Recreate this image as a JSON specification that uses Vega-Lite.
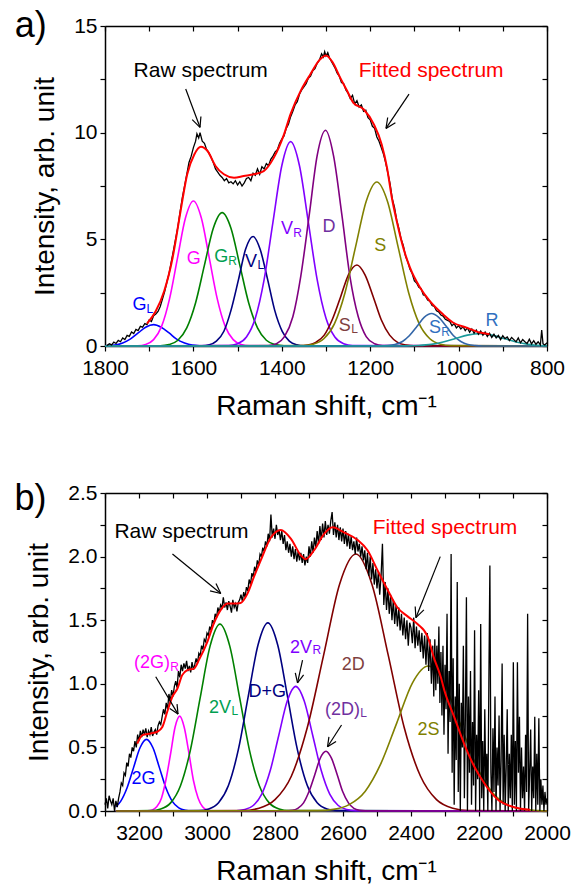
{
"$schema": "https://vega.github.io/schema/vega-lite/v6.json",
"padding": {"left": 14, "top": 8, "right": 2, "bottom": 5},
"spacing": 61,
"config": {
 "font": "Liberation Sans",
 "view": {"stroke": null},
 "scale": {"continuousPadding": 0},
 "axis": {"labelFont": "Liberation Sans", "titleFont": "Liberation Sans", "labelFontSize": 21, "titleFontSize": 28, "titleFontWeight": "normal", "labelColor": "#000", "titleColor": "#000", "domainColor": "#000", "tickColor": "#000", "domainWidth": 1.5, "tickWidth": 1.2, "tickSize": 5, "labelPadding": 3, "labelFlush": false, "labelOverlap": false, "grid": false, "titlePadding": 14},
 "axisBottom": {"labelPadding": 6},
 "axisLeft": {"titlePadding": 14}
},
"datasets": {
 "aPk": [
  {"s":"GL","x":800,"y":0},{"s":"GL","x":1568,"y":0.002},{"s":"GL","x":1585,"y":0.01},{"s":"GL","x":1603,"y":0.04},{"s":"GL","x":1620,"y":0.14},{"s":"GL","x":1638,"y":0.32},{"s":"GL","x":1655,"y":0.61},{"s":"GL","x":1673,"y":0.88},{"s":"GL","x":1690,"y":1.0},{"s":"GL","x":1708,"y":0.88},{"s":"GL","x":1725,"y":0.61},{"s":"GL","x":1743,"y":0.32},{"s":"GL","x":1760,"y":0.14},{"s":"GL","x":1778,"y":0.04},{"s":"GL","x":1800,"y":0.01},
  {"s":"G","x":800,"y":0},{"s":"G","x":1474,"y":0.015},{"s":"G","x":1492,"y":0.075},{"s":"G","x":1510,"y":0.3},{"s":"G","x":1528,"y":0.92},{"s":"G","x":1546,"y":2.21},{"s":"G","x":1564,"y":4.12},{"s":"G","x":1582,"y":6.0},{"s":"G","x":1600,"y":6.8},{"s":"G","x":1618,"y":6.0},{"s":"G","x":1636,"y":4.12},{"s":"G","x":1654,"y":2.21},{"s":"G","x":1672,"y":0.92},{"s":"G","x":1690,"y":0.3},{"s":"G","x":1708,"y":0.075},{"s":"G","x":1726,"y":0.015},{"s":"G","x":1800,"y":0},
  {"s":"GR","x":800,"y":0},{"s":"GR","x":1395,"y":0.014},{"s":"GR","x":1415,"y":0.07},{"s":"GR","x":1435,"y":0.27},{"s":"GR","x":1455,"y":0.85},{"s":"GR","x":1475,"y":2.03},{"s":"GR","x":1495,"y":3.79},{"s":"GR","x":1515,"y":5.52},{"s":"GR","x":1535,"y":6.25},{"s":"GR","x":1555,"y":5.52},{"s":"GR","x":1575,"y":3.79},{"s":"GR","x":1595,"y":2.03},{"s":"GR","x":1615,"y":0.85},{"s":"GR","x":1635,"y":0.27},{"s":"GR","x":1655,"y":0.07},{"s":"GR","x":1675,"y":0.014},{"s":"GR","x":1800,"y":0},
  {"s":"VL","x":800,"y":0},{"s":"VL","x":1350,"y":0.011},{"s":"VL","x":1366,"y":0.057},{"s":"VL","x":1383,"y":0.23},{"s":"VL","x":1399,"y":0.69},{"s":"VL","x":1416,"y":1.67},{"s":"VL","x":1432,"y":3.11},{"s":"VL","x":1449,"y":4.53},{"s":"VL","x":1465,"y":5.13},{"s":"VL","x":1482,"y":4.53},{"s":"VL","x":1498,"y":3.11},{"s":"VL","x":1515,"y":1.67},{"s":"VL","x":1531,"y":0.69},{"s":"VL","x":1548,"y":0.23},{"s":"VL","x":1564,"y":0.057},{"s":"VL","x":1581,"y":0.011},{"s":"VL","x":1800,"y":0},
  {"s":"VR","x":800,"y":0},{"s":"VR","x":1240,"y":0.021},{"s":"VR","x":1260,"y":0.106},{"s":"VR","x":1280,"y":0.42},{"s":"VR","x":1300,"y":1.3},{"s":"VR","x":1320,"y":3.11},{"s":"VR","x":1340,"y":5.81},{"s":"VR","x":1360,"y":8.45},{"s":"VR","x":1380,"y":9.58},{"s":"VR","x":1400,"y":8.45},{"s":"VR","x":1420,"y":5.81},{"s":"VR","x":1440,"y":3.11},{"s":"VR","x":1460,"y":1.3},{"s":"VR","x":1480,"y":0.42},{"s":"VR","x":1500,"y":0.106},{"s":"VR","x":1520,"y":0.021},{"s":"VR","x":1800,"y":0},
  {"s":"D","x":800,"y":0},{"s":"D","x":1172,"y":0.022},{"s":"D","x":1190,"y":0.11},{"s":"D","x":1209,"y":0.44},{"s":"D","x":1227,"y":1.37},{"s":"D","x":1246,"y":3.28},{"s":"D","x":1264,"y":6.13},{"s":"D","x":1283,"y":8.92},{"s":"D","x":1301,"y":10.11},{"s":"D","x":1320,"y":8.92},{"s":"D","x":1338,"y":6.13},{"s":"D","x":1357,"y":3.28},{"s":"D","x":1375,"y":1.37},{"s":"D","x":1394,"y":0.44},{"s":"D","x":1412,"y":0.11},{"s":"D","x":1431,"y":0.022},{"s":"D","x":1800,"y":0},
  {"s":"SL","x":800,"y":0},{"s":"SL","x":1101,"y":0.008},{"s":"SL","x":1119,"y":0.042},{"s":"SL","x":1138,"y":0.17},{"s":"SL","x":1156,"y":0.51},{"s":"SL","x":1175,"y":1.23},{"s":"SL","x":1193,"y":2.3},{"s":"SL","x":1212,"y":3.35},{"s":"SL","x":1230,"y":3.8},{"s":"SL","x":1249,"y":3.35},{"s":"SL","x":1267,"y":2.3},{"s":"SL","x":1286,"y":1.23},{"s":"SL","x":1304,"y":0.51},{"s":"SL","x":1323,"y":0.17},{"s":"SL","x":1341,"y":0.042},{"s":"SL","x":1360,"y":0.008},{"s":"SL","x":1800,"y":0},
  {"s":"S","x":800,"y":0},{"s":"S","x":1017,"y":0.017},{"s":"S","x":1041,"y":0.085},{"s":"S","x":1065,"y":0.34},{"s":"S","x":1089,"y":1.04},{"s":"S","x":1113,"y":2.5},{"s":"S","x":1137,"y":4.66},{"s":"S","x":1161,"y":6.79},{"s":"S","x":1185,"y":7.69},{"s":"S","x":1209,"y":6.79},{"s":"S","x":1233,"y":4.66},{"s":"S","x":1257,"y":2.5},{"s":"S","x":1281,"y":1.04},{"s":"S","x":1305,"y":0.34},{"s":"S","x":1329,"y":0.085},{"s":"S","x":1353,"y":0.017},{"s":"S","x":1800,"y":0},
  {"s":"SR","x":800,"y":0},{"s":"SR","x":946,"y":0.003},{"s":"SR","x":962,"y":0.017},{"s":"SR","x":979,"y":0.067},{"s":"SR","x":995,"y":0.21},{"s":"SR","x":1012,"y":0.49},{"s":"SR","x":1028,"y":0.92},{"s":"SR","x":1045,"y":1.34},{"s":"SR","x":1061,"y":1.52},{"s":"SR","x":1078,"y":1.34},{"s":"SR","x":1094,"y":0.92},{"s":"SR","x":1111,"y":0.49},{"s":"SR","x":1127,"y":0.21},{"s":"SR","x":1144,"y":0.067},{"s":"SR","x":1160,"y":0.017},{"s":"SR","x":1177,"y":0.003},{"s":"SR","x":1800,"y":0},
  {"s":"R","x":800,"y":0.013},{"s":"R","x":815,"y":0.025},{"s":"R","x":842,"y":0.078},{"s":"R","x":870,"y":0.19},{"s":"R","x":897,"y":0.35},{"s":"R","x":925,"y":0.51},{"s":"R","x":952,"y":0.58},{"s":"R","x":980,"y":0.51},{"s":"R","x":1007,"y":0.35},{"s":"R","x":1035,"y":0.19},{"s":"R","x":1062,"y":0.078},{"s":"R","x":1090,"y":0.025},{"s":"R","x":1117,"y":0.006},{"s":"R","x":1145,"y":0.001},{"s":"R","x":1800,"y":0}
 ],
 "aFit": [
  {"x":1705,"y":1.05},{"x":1685,"y":1.64},{"x":1666,"y":2.58},{"x":1647,"y":4.14},{"x":1629,"y":6.33},{"x":1614,"y":8.05},{"x":1598,"y":8.98},{"x":1583,"y":9.34},{"x":1568,"y":9.14},{"x":1550,"y":8.44},{"x":1531,"y":8.05},{"x":1508,"y":7.89},{"x":1486,"y":7.97},{"x":1463,"y":8.05},{"x":1441,"y":8.2},{"x":1418,"y":8.83},{"x":1395,"y":9.92},{"x":1380,"y":10.88},{"x":1357,"y":11.97},{"x":1335,"y":12.75},{"x":1315,"y":13.4},{"x":1300,"y":13.62},{"x":1285,"y":13.3},{"x":1268,"y":12.58},{"x":1252,"y":11.95},{"x":1238,"y":11.4},{"x":1215,"y":11.1},{"x":1192,"y":10.4},{"x":1174,"y":9.45},{"x":1162,"y":8.36},{"x":1151,"y":6.95},{"x":1140,"y":5.86},{"x":1125,"y":4.6},{"x":1110,"y":3.67},{"x":1087,"y":2.73},{"x":1065,"y":2.1},{"x":1035,"y":1.48},{"x":1012,"y":1.09},{"x":982,"y":0.86},{"x":952,"y":0.63},{"x":930,"y":0.55}
 ],
 "aRaw": [
  {"x":1796,"y":0.02},{"x":1790,"y":0.1},{"x":1785,"y":0.05},{"x":1780,"y":0.18},{"x":1775,"y":0.12},{"x":1770,"y":0.26},{"x":1765,"y":0.2},{"x":1760,"y":0.38},{"x":1755,"y":0.3},{"x":1750,"y":0.5},{"x":1745,"y":0.45},{"x":1740,"y":0.66},{"x":1735,"y":0.58},{"x":1730,"y":0.78},{"x":1725,"y":0.72},{"x":1720,"y":0.92},{"x":1715,"y":0.88},{"x":1710,"y":1.05},{"x":1705,"y":1.0},{"x":1700,"y":1.22},{"x":1695,"y":1.15},{"x":1690,"y":1.42},{"x":1685,"y":1.5},{"x":1680,"y":1.62},{"x":1675,"y":1.85},{"x":1670,"y":2.2},{"x":1665,"y":2.55},{"x":1660,"y":3.0},{"x":1655,"y":3.4},{"x":1650,"y":3.95},{"x":1645,"y":4.5},{"x":1640,"y":5.05},{"x":1635,"y":5.6},{"x":1630,"y":6.3},{"x":1625,"y":6.95},{"x":1620,"y":7.5},{"x":1615,"y":8.05},{"x":1610,"y":8.6},{"x":1605,"y":8.9},{"x":1600,"y":9.3},{"x":1595,"y":9.6},{"x":1592,"y":9.95},{"x":1588,"y":9.75},{"x":1585,"y":10.0},{"x":1580,"y":9.6},{"x":1575,"y":9.5},{"x":1570,"y":9.2},{"x":1565,"y":9.05},{"x":1560,"y":8.85},{"x":1555,"y":8.6},{"x":1550,"y":8.3},{"x":1545,"y":8.15},{"x":1540,"y":8.0},{"x":1535,"y":7.9},{"x":1530,"y":7.75},{"x":1525,"y":7.85},{"x":1520,"y":7.65},{"x":1515,"y":7.7},{"x":1510,"y":7.6},{"x":1505,"y":7.75},{"x":1500,"y":7.55},{"x":1495,"y":7.7},{"x":1490,"y":7.5},{"x":1485,"y":7.65},{"x":1480,"y":7.85},{"x":1475,"y":7.9},{"x":1470,"y":7.75},{"x":1465,"y":8.1},{"x":1460,"y":8.0},{"x":1455,"y":8.3},{"x":1450,"y":8.05},{"x":1445,"y":8.4},{"x":1440,"y":8.3},{"x":1435,"y":8.55},{"x":1430,"y":8.45},{"x":1425,"y":8.75},{"x":1420,"y":8.9},{"x":1415,"y":9.1},{"x":1410,"y":9.2},{"x":1405,"y":9.5},{"x":1400,"y":9.7},{"x":1395,"y":9.85},{"x":1390,"y":10.2},{"x":1385,"y":10.4},{"x":1380,"y":10.75},{"x":1375,"y":11.0},{"x":1370,"y":11.3},{"x":1365,"y":11.45},{"x":1360,"y":11.8},{"x":1355,"y":12.0},{"x":1350,"y":12.15},{"x":1345,"y":12.3},{"x":1340,"y":12.55},{"x":1335,"y":12.65},{"x":1330,"y":12.9},{"x":1325,"y":13.0},{"x":1320,"y":13.25},{"x":1315,"y":13.4},{"x":1310,"y":13.7},{"x":1306,"y":13.55},{"x":1303,"y":13.8},{"x":1300,"y":13.6},{"x":1296,"y":13.75},{"x":1292,"y":13.5},{"x":1288,"y":13.35},{"x":1284,"y":13.2},{"x":1280,"y":13.05},{"x":1275,"y":12.8},{"x":1270,"y":12.65},{"x":1265,"y":12.35},{"x":1260,"y":12.3},{"x":1255,"y":12.0},{"x":1250,"y":11.85},{"x":1245,"y":11.6},{"x":1240,"y":11.75},{"x":1235,"y":11.35},{"x":1230,"y":11.5},{"x":1225,"y":11.2},{"x":1220,"y":11.3},{"x":1215,"y":11.0},{"x":1210,"y":11.05},{"x":1205,"y":10.7},{"x":1200,"y":10.6},{"x":1195,"y":10.3},{"x":1190,"y":10.2},{"x":1185,"y":9.8},{"x":1180,"y":9.6},{"x":1175,"y":9.3},{"x":1170,"y":9.0},{"x":1165,"y":8.6},{"x":1160,"y":8.1},{"x":1155,"y":7.6},{"x":1150,"y":6.9},{"x":1145,"y":6.5},{"x":1140,"y":5.9},{"x":1135,"y":5.5},{"x":1130,"y":5.0},{"x":1125,"y":4.7},{"x":1120,"y":4.2},{"x":1115,"y":3.95},{"x":1110,"y":3.6},{"x":1105,"y":3.4},{"x":1100,"y":3.05},{"x":1095,"y":2.95},{"x":1090,"y":2.75},{"x":1085,"y":2.7},{"x":1080,"y":2.4},{"x":1075,"y":2.35},{"x":1070,"y":2.15},{"x":1065,"y":2.1},{"x":1060,"y":1.9},{"x":1055,"y":1.85},{"x":1050,"y":1.65},{"x":1045,"y":1.6},{"x":1040,"y":1.45},{"x":1035,"y":1.4},{"x":1030,"y":1.25},{"x":1025,"y":1.2},{"x":1020,"y":1.15},{"x":1015,"y":0.95},{"x":1010,"y":1.05},{"x":1005,"y":0.85},{"x":1000,"y":0.95},{"x":995,"y":0.8},{"x":990,"y":0.9},{"x":985,"y":0.72},{"x":980,"y":0.85},{"x":975,"y":0.65},{"x":970,"y":0.8},{"x":965,"y":0.6},{"x":960,"y":0.75},{"x":955,"y":0.55},{"x":950,"y":0.7},{"x":945,"y":0.5},{"x":940,"y":0.65},{"x":935,"y":0.45},{"x":930,"y":0.6},{"x":925,"y":0.4},{"x":920,"y":0.55},{"x":915,"y":0.38},{"x":910,"y":0.5},{"x":905,"y":0.3},{"x":900,"y":0.48},{"x":895,"y":0.35},{"x":890,"y":0.42},{"x":885,"y":0.25},{"x":880,"y":0.4},{"x":875,"y":0.3},{"x":870,"y":0.2},{"x":865,"y":0.38},{"x":860,"y":0.15},{"x":855,"y":0.3},{"x":850,"y":0.2},{"x":845,"y":0.12},{"x":840,"y":0.32},{"x":835,"y":0.1},{"x":830,"y":0.25},{"x":825,"y":0.08},{"x":820,"y":0.2},{"x":815,"y":0.05},{"x":812,"y":0.75},{"x":809,"y":0.1},{"x":805,"y":0.05},{"x":800,"y":0.15}
 ],
 "aArr": [
  {"x":1617.4,"y":12.05,"x2":1585.1,"y2":10.25},{"x":1583.0,"y":10.76,"x2":1585.1,"y2":10.25},{"x":1602.7,"y":10.61,"x2":1585.1,"y2":10.25},
  {"x":1112.2,"y":11.81,"x2":1164.3,"y2":10.2},{"x":1143.0,"y":10.47,"x2":1164.3,"y2":10.2},{"x":1160.4,"y":10.71,"x2":1164.3,"y2":10.2}
 ],
 "aLab": [
  {"s":"GL","r":"m","t":"G","x":1738,"y":1.69},{"s":"GL","r":"s","t":"L","x":1706,"y":1.56},
  {"s":"G","r":"m","t":"G","x":1615,"y":3.84},
  {"s":"GR","r":"m","t":"G","x":1553,"y":3.92},{"s":"GR","r":"s","t":"R","x":1521,"y":3.81},
  {"s":"VL","r":"m","t":"V","x":1483,"y":3.69},{"s":"VL","r":"s","t":"L","x":1455,"y":3.61},
  {"s":"VR","r":"m","t":"V","x":1402,"y":5.25},{"s":"VR","r":"s","t":"R","x":1374,"y":5.12},
  {"s":"D","r":"m","t":"D","x":1308,"y":5.36},
  {"s":"SL","r":"m","t":"S","x":1271,"y":0.68},{"s":"SL","r":"s","t":"L","x":1243,"y":0.59},
  {"s":"S","r":"m","t":"S","x":1191,"y":4.47},
  {"s":"SR","r":"m","t":"S","x":1067,"y":0.59},{"s":"SR","r":"s","t":"R","x":1039,"y":0.48},
  {"s":"R","r":"m","t":"R","x":939,"y":0.95}
 ],
 "aNote": [
  {"t":"Raw spectrum","c":"k","x":1583.5,"y":12.9},{"t":"Fitted spectrum","c":"r","x":1062,"y":12.87}
 ],
 "aTag": [{"t":"a)","x":2004,"y":14.47}],
 "bPk": [
  {"s":"2G","x":2000,"y":0},{"s":"2G","x":3045,"y":0.001},{"s":"2G","x":3064,"y":0.006},{"s":"2G","x":3083,"y":0.025},{"s":"2G","x":3102,"y":0.076},{"s":"2G","x":3121,"y":0.183},{"s":"2G","x":3140,"y":0.341},{"s":"2G","x":3159,"y":0.497},{"s":"2G","x":3178,"y":0.563},{"s":"2G","x":3197,"y":0.497},{"s":"2G","x":3216,"y":0.341},{"s":"2G","x":3235,"y":0.183},{"s":"2G","x":3254,"y":0.076},{"s":"2G","x":3268,"y":0.034},
  {"s":"2GR","x":2000,"y":0},{"s":"2GR","x":2986,"y":0.002},{"s":"2GR","x":2999,"y":0.008},{"s":"2GR","x":3013,"y":0.033},{"s":"2GR","x":3026,"y":0.101},{"s":"2GR","x":3040,"y":0.242},{"s":"2GR","x":3053,"y":0.452},{"s":"2GR","x":3067,"y":0.658},{"s":"2GR","x":3080,"y":0.746},{"s":"2GR","x":3094,"y":0.658},{"s":"2GR","x":3107,"y":0.452},{"s":"2GR","x":3121,"y":0.242},{"s":"2GR","x":3134,"y":0.101},{"s":"2GR","x":3148,"y":0.033},{"s":"2GR","x":3161,"y":0.008},{"s":"2GR","x":3175,"y":0.002},{"s":"2GR","x":3268,"y":0},
  {"s":"2VL","x":2000,"y":0},{"s":"2VL","x":2759,"y":0.003},{"s":"2VL","x":2788,"y":0.016},{"s":"2VL","x":2817,"y":0.064},{"s":"2VL","x":2846,"y":0.199},{"s":"2VL","x":2875,"y":0.477},{"s":"2VL","x":2904,"y":0.891},{"s":"2VL","x":2933,"y":1.296},{"s":"2VL","x":2962,"y":1.469},{"s":"2VL","x":2991,"y":1.296},{"s":"2VL","x":3020,"y":0.891},{"s":"2VL","x":3049,"y":0.477},{"s":"2VL","x":3078,"y":0.199},{"s":"2VL","x":3107,"y":0.064},{"s":"2VL","x":3136,"y":0.016},{"s":"2VL","x":3165,"y":0.003},{"s":"2VL","x":3268,"y":0},
  {"s":"DG","x":2000,"y":0},{"s":"DG","x":2618,"y":0.003},{"s":"DG","x":2647,"y":0.016},{"s":"DG","x":2676,"y":0.065},{"s":"DG","x":2705,"y":0.2},{"s":"DG","x":2734,"y":0.48},{"s":"DG","x":2763,"y":0.897},{"s":"DG","x":2792,"y":1.305},{"s":"DG","x":2821,"y":1.479},{"s":"DG","x":2850,"y":1.305},{"s":"DG","x":2879,"y":0.897},{"s":"DG","x":2908,"y":0.48},{"s":"DG","x":2937,"y":0.2},{"s":"DG","x":2966,"y":0.065},{"s":"DG","x":2995,"y":0.016},{"s":"DG","x":3024,"y":0.003},{"s":"DG","x":3268,"y":0},
  {"s":"2VR","x":2000,"y":0},{"s":"2VR","x":2564,"y":0.002},{"s":"2VR","x":2589,"y":0.011},{"s":"2VR","x":2614,"y":0.043},{"s":"2VR","x":2639,"y":0.133},{"s":"2VR","x":2664,"y":0.318},{"s":"2VR","x":2689,"y":0.594},{"s":"2VR","x":2714,"y":0.865},{"s":"2VR","x":2739,"y":0.98},{"s":"2VR","x":2764,"y":0.865},{"s":"2VR","x":2789,"y":0.594},{"s":"2VR","x":2814,"y":0.318},{"s":"2VR","x":2839,"y":0.133},{"s":"2VR","x":2864,"y":0.043},{"s":"2VR","x":2889,"y":0.011},{"s":"2VR","x":2914,"y":0.002},{"s":"2VR","x":3268,"y":0},
  {"s":"2D","x":2000,"y":0},{"s":"2D","x":2230,"y":0.004},{"s":"2D","x":2277,"y":0.022},{"s":"2D","x":2325,"y":0.089},{"s":"2D","x":2372,"y":0.273},{"s":"2D","x":2420,"y":0.656},{"s":"2D","x":2467,"y":1.225},{"s":"2D","x":2515,"y":1.783},{"s":"2D","x":2562,"y":2.02},{"s":"2D","x":2610,"y":1.783},{"s":"2D","x":2657,"y":1.225},{"s":"2D","x":2705,"y":0.656},{"s":"2D","x":2752,"y":0.273},{"s":"2D","x":2800,"y":0.089},{"s":"2D","x":2847,"y":0.022},{"s":"2D","x":2895,"y":0.004},{"s":"2D","x":3268,"y":0},
  {"s":"2DL","x":2000,"y":0},{"s":"2DL","x":2535,"y":0.001},{"s":"2DL","x":2551,"y":0.005},{"s":"2DL","x":2568,"y":0.021},{"s":"2DL","x":2584,"y":0.064},{"s":"2DL","x":2601,"y":0.153},{"s":"2DL","x":2617,"y":0.285},{"s":"2DL","x":2634,"y":0.415},{"s":"2DL","x":2650,"y":0.47},{"s":"2DL","x":2667,"y":0.415},{"s":"2DL","x":2683,"y":0.285},{"s":"2DL","x":2700,"y":0.153},{"s":"2DL","x":2716,"y":0.064},{"s":"2DL","x":2733,"y":0.021},{"s":"2DL","x":2749,"y":0.005},{"s":"2DL","x":2766,"y":0.001},{"s":"2DL","x":3268,"y":0},
  {"s":"2S","x":2000,"y":0},{"s":"2S","x":2024,"y":0.003},{"s":"2S","x":2070,"y":0.013},{"s":"2S","x":2117,"y":0.05},{"s":"2S","x":2163,"y":0.154},{"s":"2S","x":2210,"y":0.37},{"s":"2S","x":2256,"y":0.691},{"s":"2S","x":2303,"y":1.006},{"s":"2S","x":2349,"y":1.14},{"s":"2S","x":2396,"y":1.006},{"s":"2S","x":2442,"y":0.691},{"s":"2S","x":2489,"y":0.37},{"s":"2S","x":2535,"y":0.154},{"s":"2S","x":2582,"y":0.05},{"s":"2S","x":2628,"y":0.013},{"s":"2S","x":2675,"y":0.003},{"s":"2S","x":3268,"y":0}
 ],
 "bFit": [
  {"x":3205,"y":0.53},{"x":3190,"y":0.597},{"x":3166,"y":0.61},{"x":3146,"y":0.623},{"x":3131,"y":0.662},{"x":3117,"y":0.78},{"x":3102,"y":0.898},{"x":3087,"y":0.963},{"x":3073,"y":1.068},{"x":3058,"y":1.107},{"x":3038,"y":1.12},{"x":3024,"y":1.186},{"x":2999,"y":1.33},{"x":2980,"y":1.474},{"x":2960,"y":1.579},{"x":2940,"y":1.631},{"x":2921,"y":1.631},{"x":2901,"y":1.636},{"x":2881,"y":1.709},{"x":2862,"y":1.84},{"x":2842,"y":1.97},{"x":2812,"y":2.15},{"x":2783,"y":2.21},{"x":2753,"y":2.14},{"x":2724,"y":2.01},{"x":2709,"y":1.98},{"x":2685,"y":2.05},{"x":2655,"y":2.18},{"x":2631,"y":2.23},{"x":2597,"y":2.19},{"x":2557,"y":2.13},{"x":2528,"y":2.05},{"x":2498,"y":1.89},{"x":2469,"y":1.74},{"x":2440,"y":1.6},{"x":2410,"y":1.53},{"x":2381,"y":1.47},{"x":2351,"y":1.37},{"x":2332,"y":1.2},{"x":2312,"y":1.05},{"x":2302,"y":0.95},{"x":2273,"y":0.74},{"x":2244,"y":0.53},{"x":2214,"y":0.35},{"x":2185,"y":0.22},{"x":2145,"y":0.09},{"x":2096,"y":0.03},{"x":2050,"y":0.01}
 ],
 "bRaw": [
  {"x":3300,"y":0.05},{"x":3296,"y":0.1},{"x":3292,"y":0.02},{"x":3288,"y":0.12},{"x":3284,"y":0.08},{"x":3280,"y":0.05},{"x":3276,"y":0.1},{"x":3272,"y":0.0},{"x":3268,"y":0.08},{"x":3264,"y":0.03},{"x":3260,"y":0.1},{"x":3256,"y":0.15},{"x":3252,"y":0.22},{"x":3248,"y":0.2},{"x":3244,"y":0.3},{"x":3240,"y":0.28},{"x":3236,"y":0.38},{"x":3232,"y":0.35},{"x":3228,"y":0.45},{"x":3224,"y":0.42},{"x":3220,"y":0.5},{"x":3216,"y":0.47},{"x":3212,"y":0.55},{"x":3208,"y":0.5},{"x":3204,"y":0.6},{"x":3200,"y":0.55},{"x":3196,"y":0.63},{"x":3192,"y":0.58},{"x":3188,"y":0.64},{"x":3184,"y":0.6},{"x":3180,"y":0.65},{"x":3176,"y":0.58},{"x":3172,"y":0.63},{"x":3168,"y":0.6},{"x":3164,"y":0.66},{"x":3160,"y":0.59},{"x":3156,"y":0.62},{"x":3152,"y":0.64},{"x":3148,"y":0.6},{"x":3144,"y":0.67},{"x":3140,"y":0.7},{"x":3136,"y":0.68},{"x":3132,"y":0.74},{"x":3128,"y":0.8},{"x":3124,"y":0.76},{"x":3120,"y":0.85},{"x":3116,"y":0.8},{"x":3112,"y":0.92},{"x":3108,"y":0.86},{"x":3104,"y":0.95},{"x":3100,"y":0.9},{"x":3096,"y":0.98},{"x":3092,"y":1.02},{"x":3088,"y":0.97},{"x":3084,"y":1.1},{"x":3080,"y":1.05},{"x":3076,"y":1.15},{"x":3072,"y":1.1},{"x":3068,"y":1.16},{"x":3064,"y":1.12},{"x":3060,"y":1.18},{"x":3056,"y":1.1},{"x":3052,"y":1.14},{"x":3048,"y":1.09},{"x":3044,"y":1.17},{"x":3040,"y":1.11},{"x":3036,"y":1.15},{"x":3032,"y":1.2},{"x":3028,"y":1.16},{"x":3024,"y":1.24},{"x":3020,"y":1.22},{"x":3016,"y":1.3},{"x":3012,"y":1.27},{"x":3008,"y":1.35},{"x":3004,"y":1.33},{"x":3000,"y":1.4},{"x":2996,"y":1.38},{"x":2992,"y":1.45},{"x":2988,"y":1.42},{"x":2984,"y":1.5},{"x":2980,"y":1.47},{"x":2976,"y":1.55},{"x":2972,"y":1.52},{"x":2968,"y":1.6},{"x":2964,"y":1.56},{"x":2960,"y":1.62},{"x":2956,"y":1.6},{"x":2952,"y":1.68},{"x":2948,"y":1.6},{"x":2944,"y":1.64},{"x":2940,"y":1.58},{"x":2936,"y":1.65},{"x":2932,"y":1.61},{"x":2928,"y":1.56},{"x":2924,"y":1.66},{"x":2920,"y":1.6},{"x":2916,"y":1.63},{"x":2912,"y":1.57},{"x":2908,"y":1.64},{"x":2904,"y":1.66},{"x":2900,"y":1.7},{"x":2896,"y":1.65},{"x":2892,"y":1.72},{"x":2888,"y":1.68},{"x":2884,"y":1.76},{"x":2880,"y":1.73},{"x":2876,"y":1.82},{"x":2872,"y":1.78},{"x":2868,"y":1.87},{"x":2864,"y":1.84},{"x":2860,"y":1.92},{"x":2856,"y":1.88},{"x":2852,"y":1.97},{"x":2848,"y":1.93},{"x":2844,"y":2.02},{"x":2840,"y":2.0},{"x":2836,"y":2.07},{"x":2832,"y":2.04},{"x":2828,"y":2.12},{"x":2824,"y":2.08},{"x":2820,"y":2.18},{"x":2816,"y":2.12},{"x":2812,"y":2.33},{"x":2808,"y":2.15},{"x":2804,"y":2.22},{"x":2800,"y":2.14},{"x":2796,"y":2.25},{"x":2792,"y":2.17},{"x":2788,"y":2.21},{"x":2784,"y":2.13},{"x":2780,"y":2.2},{"x":2776,"y":2.1},{"x":2772,"y":2.17},{"x":2768,"y":2.05},{"x":2764,"y":2.12},{"x":2760,"y":2.03},{"x":2756,"y":2.1},{"x":2752,"y":2.0},{"x":2748,"y":2.08},{"x":2744,"y":1.98},{"x":2740,"y":2.06},{"x":2736,"y":1.96},{"x":2732,"y":2.04},{"x":2728,"y":1.97},{"x":2724,"y":2.03},{"x":2720,"y":1.95},{"x":2716,"y":2.02},{"x":2712,"y":1.93},{"x":2708,"y":2.0},{"x":2704,"y":1.95},{"x":2700,"y":2.08},{"x":2696,"y":2.0},{"x":2692,"y":2.12},{"x":2688,"y":2.03},{"x":2684,"y":2.15},{"x":2680,"y":2.07},{"x":2676,"y":2.2},{"x":2672,"y":2.1},{"x":2668,"y":2.24},{"x":2664,"y":2.13},{"x":2660,"y":2.26},{"x":2656,"y":2.15},{"x":2652,"y":2.28},{"x":2648,"y":2.17},{"x":2644,"y":2.25},{"x":2640,"y":2.18},{"x":2636,"y":2.28},{"x":2632,"y":2.35},{"x":2628,"y":2.17},{"x":2624,"y":2.27},{"x":2620,"y":2.15},{"x":2616,"y":2.25},{"x":2612,"y":2.13},{"x":2608,"y":2.23},{"x":2604,"y":2.12},{"x":2600,"y":2.22},{"x":2596,"y":2.1},{"x":2592,"y":2.2},{"x":2588,"y":2.08},{"x":2584,"y":2.18},{"x":2580,"y":2.06},{"x":2576,"y":2.16},{"x":2572,"y":2.05},{"x":2568,"y":2.12},{"x":2564,"y":2.02},{"x":2560,"y":2.15},{"x":2556,"y":2.04},{"x":2552,"y":2.1},{"x":2548,"y":2.0},{"x":2544,"y":2.08},{"x":2540,"y":1.97},{"x":2536,"y":2.05},{"x":2532,"y":1.9},{"x":2528,"y":2.03},{"x":2524,"y":1.85},{"x":2520,"y":2.0},{"x":2516,"y":1.82},{"x":2512,"y":1.95},{"x":2508,"y":1.78},{"x":2504,"y":1.9},{"x":2500,"y":1.75},{"x":2496,"y":1.88},{"x":2492,"y":1.7},{"x":2488,"y":1.85},{"x":2484,"y":2.1},{"x":2480,"y":1.62},{"x":2476,"y":1.8},{"x":2472,"y":1.58},{"x":2468,"y":1.75},{"x":2464,"y":1.55},{"x":2460,"y":1.7},{"x":2456,"y":1.5},{"x":2452,"y":1.66},{"x":2448,"y":1.47},{"x":2444,"y":1.62},{"x":2440,"y":1.45},{"x":2436,"y":1.6},{"x":2432,"y":1.42},{"x":2428,"y":1.55},{"x":2424,"y":1.38},{"x":2420,"y":1.52},{"x":2416,"y":1.35},{"x":2412,"y":1.5},{"x":2408,"y":1.3},{"x":2404,"y":1.48},{"x":2400,"y":1.44},{"x":2396,"y":1.32},{"x":2392,"y":1.52},{"x":2388,"y":1.28},{"x":2384,"y":1.45},{"x":2380,"y":1.3},{"x":2376,"y":1.42},{"x":2372,"y":1.25},{"x":2368,"y":1.4},{"x":2364,"y":1.2},{"x":2360,"y":1.38},{"x":2356,"y":1.15},{"x":2352,"y":1.4},{"x":2348,"y":1.1},{"x":2344,"y":1.35},{"x":2340,"y":1.0},{"x":2336,"y":1.3},{"x":2333,"y":0.9},
  {"x":2330,"y":1.35},{"x":2327,"y":0.95},{"x":2324,"y":1.3},{"x":2321,"y":1.0},{"x":2318,"y":1.45},{"x":2315,"y":0.85},{"x":2312,"y":1.25},{"x":2309,"y":0.75},{"x":2306,"y":1.3},{"x":2303,"y":0.6},{"x":2300,"y":1.15},{"x":2297,"y":0.8},{"x":2294,"y":1.55},{"x":2291,"y":0.45},{"x":2288,"y":1.1},{"x":2285,"y":0.7},{"x":2282,"y":2.02},{"x":2279,"y":0.3},{"x":2276,"y":1.2},{"x":2273,"y":0.05},{"x":2270,"y":0.9},{"x":2267,"y":0.4},{"x":2264,"y":1.8},{"x":2261,"y":0.15},{"x":2258,"y":1.0},{"x":2255,"y":0.0},{"x":2252,"y":0.85},{"x":2249,"y":0.5},{"x":2246,"y":1.3},{"x":2243,"y":0.1},{"x":2240,"y":0.75},{"x":2237,"y":1.68},{"x":2234,"y":0.0},{"x":2231,"y":0.9},{"x":2228,"y":0.3},{"x":2225,"y":1.1},{"x":2222,"y":0.05},{"x":2219,"y":0.7},{"x":2216,"y":0.2},{"x":2213,"y":1.42},{"x":2210,"y":0.0},{"x":2207,"y":0.6},{"x":2204,"y":0.25},{"x":2201,"y":0.95},{"x":2198,"y":0.0},{"x":2195,"y":1.47},{"x":2192,"y":0.1},{"x":2189,"y":0.55},{"x":2186,"y":0.0},{"x":2183,"y":0.8},{"x":2180,"y":0.2},{"x":2177,"y":0.45},{"x":2174,"y":0.0},{"x":2171,"y":1.0},{"x":2168,"y":1.93},{"x":2165,"y":0.3},{"x":2162,"y":0.0},{"x":2159,"y":0.65},{"x":2156,"y":0.15},{"x":2153,"y":0.9},{"x":2150,"y":0.0},{"x":2147,"y":0.5},{"x":2144,"y":0.2},{"x":2141,"y":0.75},{"x":2138,"y":0.0},{"x":2135,"y":0.4},{"x":2132,"y":1.16},{"x":2129,"y":0.05},{"x":2126,"y":0.6},{"x":2123,"y":0.0},{"x":2120,"y":0.35},{"x":2117,"y":0.8},{"x":2114,"y":0.0},{"x":2111,"y":0.45},{"x":2108,"y":0.1},{"x":2105,"y":0.6},{"x":2102,"y":0.0},{"x":2099,"y":1.17},{"x":2096,"y":0.05},{"x":2093,"y":0.55},{"x":2090,"y":0.0},{"x":2087,"y":1.17},{"x":2084,"y":0.3},{"x":2081,"y":0.74},{"x":2078,"y":0.0},{"x":2075,"y":0.5},{"x":2072,"y":0.1},{"x":2069,"y":0.35},{"x":2066,"y":0.0},{"x":2063,"y":0.6},{"x":2060,"y":0.15},{"x":2057,"y":1.55},{"x":2054,"y":0.0},{"x":2051,"y":0.3},{"x":2048,"y":0.64},{"x":2045,"y":0.0},{"x":2042,"y":0.35},{"x":2039,"y":0.1},{"x":2036,"y":0.74},{"x":2033,"y":0.0},{"x":2030,"y":0.45},{"x":2027,"y":0.05},{"x":2024,"y":0.73},{"x":2021,"y":0.0},{"x":2018,"y":0.25},{"x":2015,"y":0.05},{"x":2012,"y":0.2},{"x":2009,"y":0.0},{"x":2006,"y":0.15},{"x":2003,"y":0.05},{"x":2000,"y":0.1}
 ],
 "bArr": [
  {"x":3101.6,"y":2.02,"x2":2959.5,"y2":1.71},{"x":2973.6,"y":1.788,"x2":2959.5,"y2":1.71},{"x":2991,"y":1.731,"x2":2959.5,"y2":1.71},
  {"x":2314,"y":2.0,"x2":2385.6,"y2":1.52},{"x":2362.1,"y":1.581,"x2":2385.6,"y2":1.52},{"x":2387.6,"y":1.608,"x2":2385.6,"y2":1.52},
  {"x":3150.8,"y":1.055,"x2":3085.2,"y2":0.762},{"x":3088.1,"y":0.84,"x2":3085.2,"y2":0.762},{"x":3109.6,"y":0.806,"x2":3085.2,"y2":0.762},
  {"x":2719,"y":1.186,"x2":2733.8,"y2":1.008},{"x":2715.8,"y":1.07,"x2":2733.8,"y2":1.008},{"x":2740.3,"y":1.085,"x2":2733.8,"y2":1.008},
  {"x":2604.3,"y":0.676,"x2":2645.5,"y2":0.505},{"x":2620.5,"y":0.547,"x2":2645.5,"y2":0.505},{"x":2641.4,"y":0.583,"x2":2645.5,"y2":0.505}
 ],
 "bLab": [
  {"s":"2G","r":"m","t":"2G","x":3222,"y":0.212},
  {"s":"2GR","r":"m","t":"(2G)","x":3215,"y":1.121},{"s":"2GR","r":"s","t":"R","x":3108,"y":1.102},
  {"s":"2VL","r":"m","t":"2V","x":2994,"y":0.767},{"s":"2VL","r":"s","t":"L","x":2928,"y":0.754},
  {"s":"DG","r":"m","t":"D+G","x":2878,"y":0.898},
  {"s":"2VR","r":"m","t":"2V","x":2756,"y":1.239},{"s":"2VR","r":"s","t":"R","x":2690,"y":1.233},
  {"s":"2D","r":"m","t":"2D","x":2604,"y":1.108},
  {"s":"2DL","r":"m","t":"(2D)","x":2653,"y":0.754},{"s":"2DL","r":"s","t":"L","x":2549,"y":0.738},
  {"s":"2S","r":"m","t":"2S","x":2381,"y":0.597}
 ],
 "bNote": [
  {"t":"Raw spectrum","c":"k","x":3075,"y":2.19},{"t":"Fitted spectrum","c":"r","x":2300,"y":2.227}
 ],
 "bTag": [{"t":"b)","x":3566,"y":2.365}]
},
"vconcat": [
 {
  "width": 442, "height": 320,
  "resolve": {"axis": {"x": "independent", "y": "independent"}},
  "layer": [
   {
    "resolve": {"scale": {"color": "independent"}},
    "encoding": {
     "x": {"field": "x", "type": "quantitative", "scale": {"domain": [800, 1800], "reverse": true, "nice": false, "zero": false, "padding": 0}, "axis": {"values": [800,900,1000,1100,1200,1300,1400,1500,1600,1700,1800], "format": "d", "labelExpr": "datum.value % 200 == 0 ? datum.label : ''", "title": "Raman shift, cm⁻¹"}},
     "y": {"field": "y", "type": "quantitative", "scale": {"domain": [0, 15], "nice": false, "zero": false, "padding": 0}, "axis": {"values": [0,2.5,5,7.5,10,12.5,15], "format": "d", "labelExpr": "datum.value % 5 == 0 ? datum.label : ''", "title": "Intensity, arb. unit"}}
    },
    "layer": [
     {"data": {"name": "aPk"}, "mark": {"type": "line", "interpolate": "monotone", "strokeWidth": 1.6}, "encoding": {"color": {"field": "s", "type": "nominal", "legend": null, "scale": {"domain": ["GL","G","GR","VL","VR","D","SL","S","SR","R"], "range": ["#0000FF","#FF00FF","#008000","#000080","#8000FF","#800080","#800000","#808000","#3366A8","#1A9A9A"]}}}},
     {"data": {"name": "aRaw"}, "mark": {"type": "line", "color": "#000000", "strokeWidth": 1.3}},
     {"data": {"name": "aFit"}, "mark": {"type": "line", "color": "#FF0000", "strokeWidth": 2, "interpolate": "monotone"}},
     {"data": {"name": "aArr"}, "mark": {"type": "rule", "color": "#000000", "strokeWidth": 1.2}, "encoding": {"x2": {"field": "x2"}, "y2": {"field": "y2"}}},
     {"data": {"name": "aLab"}, "transform": [{"filter": "datum.r == 'm'"}], "mark": {"type": "text", "align": "left", "baseline": "alphabetic", "fontSize": 18}, "encoding": {"text": {"field": "t"}, "color": {"field": "s", "type": "nominal", "legend": null, "scale": {"domain": ["GL","G","GR","VL","VR","D","SL","S","SR","R"], "range": ["#0000FF","#FF00FF","#00A050","#000080","#8000FF","#7030A0","#7F3F3F","#808000","#3070C0","#3070C0"]}}}},
     {"data": {"name": "aLab"}, "transform": [{"filter": "datum.r == 's'"}], "mark": {"type": "text", "align": "left", "baseline": "alphabetic", "fontSize": 12}, "encoding": {"text": {"field": "t"}, "color": {"field": "s", "type": "nominal", "legend": null, "scale": {"domain": ["GL","G","GR","VL","VR","D","SL","S","SR","R"], "range": ["#0000FF","#FF00FF","#00A050","#000080","#8000FF","#7030A0","#7F3F3F","#808000","#3070C0","#3070C0"]}}}},
     {"data": {"name": "aNote"}, "mark": {"type": "text", "align": "center", "baseline": "middle", "fontSize": 21}, "encoding": {"text": {"field": "t"}, "color": {"field": "c", "type": "nominal", "legend": null, "scale": {"domain": ["k","r"], "range": ["#000000","#FF0000"]}}}},
     {"data": {"name": "aTag"}, "mark": {"type": "text", "align": "left", "baseline": "alphabetic", "fontSize": 36, "color": "#000000"}, "encoding": {"text": {"field": "t"}}}
    ]
   },
   {
    "data": {"name": "aFit"},
    "mark": {"type": "line", "opacity": 0},
    "encoding": {
     "x": {"field": "x", "type": "quantitative", "scale": {"domain": [800, 1800], "reverse": true, "nice": false, "zero": false, "padding": 0}, "axis": {"orient": "top", "values": [800,900,1000,1100,1200,1300,1400,1500,1600,1700,1800], "labels": false, "tickSize": -5, "title": null}},
     "y": {"field": "y", "type": "quantitative", "scale": {"domain": [0, 15], "nice": false, "zero": false, "padding": 0}, "axis": {"orient": "right", "values": [0,2.5,5,7.5,10,12.5,15], "labels": false, "tickSize": -5, "title": null}}
    }
   }
  ]
 },
 {
  "width": 442, "height": 318,
  "resolve": {"axis": {"x": "independent", "y": "independent"}},
  "layer": [
   {
    "resolve": {"scale": {"color": "independent"}},
    "encoding": {
     "x": {"field": "x", "type": "quantitative", "scale": {"domain": [2000, 3300], "reverse": true, "nice": false, "zero": false, "padding": 0}, "axis": {"values": [2000,2100,2200,2300,2400,2500,2600,2700,2800,2900,3000,3100,3200,3300], "format": "d", "labelExpr": "datum.value % 200 == 0 ? datum.label : ''", "title": "Raman shift, cm⁻¹"}},
     "y": {"field": "y", "type": "quantitative", "scale": {"domain": [0, 2.5], "nice": false, "zero": false, "padding": 0}, "axis": {"values": [0,0.25,0.5,0.75,1,1.25,1.5,1.75,2,2.25,2.5], "format": ".1f", "labelExpr": "(datum.value * 2) % 1 == 0 ? datum.label : ''", "title": "Intensity, arb. unit"}}
    },
    "layer": [
     {"data": {"name": "bPk"}, "mark": {"type": "line", "interpolate": "monotone", "strokeWidth": 1.6}, "encoding": {"color": {"field": "s", "type": "nominal", "legend": null, "scale": {"domain": ["2G","2GR","2VL","DG","2VR","2D","2DL","2S"], "range": ["#0000FF","#FF00FF","#008000","#000080","#8000FF","#800000","#800080","#808000"]}}}},
     {"data": {"name": "bRaw"}, "mark": {"type": "line", "color": "#000000", "strokeWidth": 1.3}},
     {"data": {"name": "bFit"}, "mark": {"type": "line", "color": "#FF0000", "strokeWidth": 2, "interpolate": "monotone"}},
     {"data": {"name": "bArr"}, "mark": {"type": "rule", "color": "#000000", "strokeWidth": 1.2}, "encoding": {"x2": {"field": "x2"}, "y2": {"field": "y2"}}},
     {"data": {"name": "bLab"}, "transform": [{"filter": "datum.r == 'm'"}], "mark": {"type": "text", "align": "left", "baseline": "alphabetic", "fontSize": 18}, "encoding": {"text": {"field": "t"}, "color": {"field": "s", "type": "nominal", "legend": null, "scale": {"domain": ["2G","2GR","2VL","DG","2VR","2D","2DL","2S"], "range": ["#0000FF","#FF00FF","#00A050","#000080","#8000FF","#7F3F3F","#7030A0","#808000"]}}}},
     {"data": {"name": "bLab"}, "transform": [{"filter": "datum.r == 's'"}], "mark": {"type": "text", "align": "left", "baseline": "alphabetic", "fontSize": 12}, "encoding": {"text": {"field": "t"}, "color": {"field": "s", "type": "nominal", "legend": null, "scale": {"domain": ["2G","2GR","2VL","DG","2VR","2D","2DL","2S"], "range": ["#0000FF","#FF00FF","#00A050","#000080","#8000FF","#7F3F3F","#7030A0","#808000"]}}}},
     {"data": {"name": "bNote"}, "mark": {"type": "text", "align": "center", "baseline": "middle", "fontSize": 21}, "encoding": {"text": {"field": "t"}, "color": {"field": "c", "type": "nominal", "legend": null, "scale": {"domain": ["k","r"], "range": ["#000000","#FF0000"]}}}},
     {"data": {"name": "bTag"}, "mark": {"type": "text", "align": "left", "baseline": "alphabetic", "fontSize": 36, "color": "#000000"}, "encoding": {"text": {"field": "t"}}}
    ]
   },
   {
    "data": {"name": "bFit"},
    "mark": {"type": "line", "opacity": 0},
    "encoding": {
     "x": {"field": "x", "type": "quantitative", "scale": {"domain": [2000, 3300], "reverse": true, "nice": false, "zero": false, "padding": 0}, "axis": {"orient": "top", "values": [2000,2100,2200,2300,2400,2500,2600,2700,2800,2900,3000,3100,3200,3300], "labels": false, "tickSize": -5, "title": null}},
     "y": {"field": "y", "type": "quantitative", "scale": {"domain": [0, 2.5], "nice": false, "zero": false, "padding": 0}, "axis": {"orient": "right", "values": [0,0.25,0.5,0.75,1,1.25,1.5,1.75,2,2.25,2.5], "labels": false, "tickSize": -5, "title": null}}
    }
   }
  ]
 }
]
}
